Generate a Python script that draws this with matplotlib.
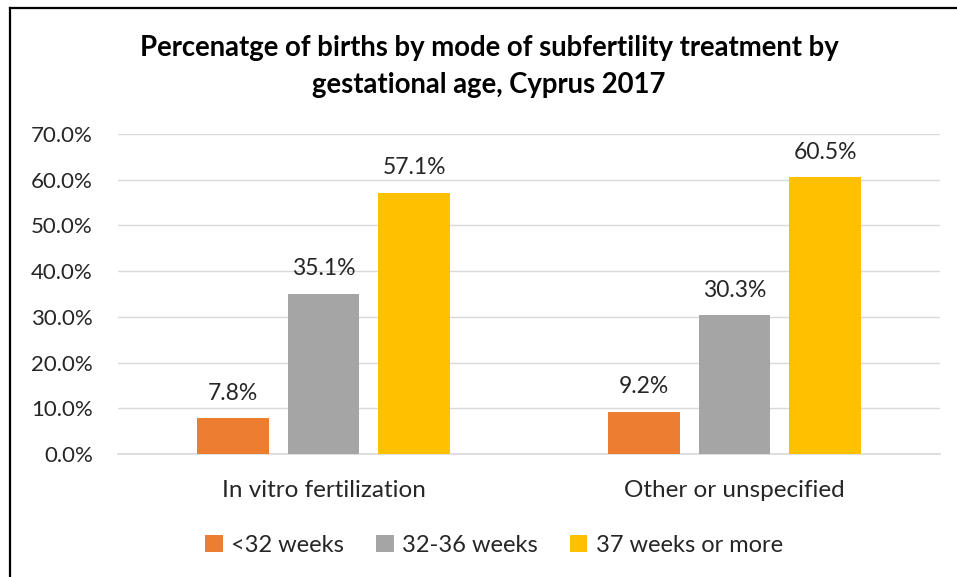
import matplotlib
matplotlib.use("Agg")
import matplotlib.pyplot as plt
from matplotlib.lines import Line2D
from matplotlib.patches import Patch
import numpy as np

plt.rcParams['font.family'] = ['Lato', 'DejaVu Sans']

categories = ["In vitro fertilization", "Other or unspecified"]
series_names = ["<32 weeks", "32-36 weeks", "37 weeks or more"]
lt32 = [7.8, 9.2]
w32_36 = [35.1, 30.3]
w37plus = [57.1, 60.5]
colors = ["#ED7D31", "#A5A5A5", "#FFC000"]
yticks = [0, 10, 20, 30, 40, 50, 60, 70]

W, H = 957, 577
fig = plt.figure(figsize=(W / 100, H / 100), dpi=100)
ax = fig.add_axes([118 / W, (H - 454) / H, (940 - 118) / W, (454 - 134) / H])

x = np.arange(len(categories))
bw = 0.175
step = 0.221
for i, (vals, c) in enumerate(zip([lt32, w32_36, w37plus], colors)):
    pos = x + (i - 1) * step
    ax.bar(pos, vals, width=bw, color=c, zorder=3, label=series_names[i])
    for p, v in zip(pos, vals):
        ax.text(p, v + 3.2, f"{v:.1f}%", ha='center', va='bottom', fontsize=16.5, color='#262626')

ax.set_xlim(-0.5, 1.5)
ax.set_ylim(0, 70)
ax.set_yticks(yticks)
ax.set_yticklabels([f"{t:.1f}%" for t in yticks], fontsize=16, color='#262626')
ax.set_xticks(x)
ax.set_xticklabels(categories, fontsize=17.5, color='#262626')
ax.tick_params(axis='both', length=0)
ax.tick_params(axis='y', pad=18)
ax.tick_params(axis='x', pad=19)
ax.grid(axis='y', color='#D9D9D9', linewidth=1, zorder=0)
for s in ['top', 'right', 'left']:
    ax.spines[s].set_visible(False)
ax.spines['bottom'].set_color('#D9D9D9')
ax.spines['bottom'].set_linewidth(1.2)

fig.text(489 / W, 1 - 66.5 / H, "Percenatge of births by mode of subfertility treatment by\ngestational age, Cyprus 2017",
         ha='center', va='center', fontsize=19.8, fontweight='bold', color='#000000', linespacing=1.5)

handles = [Patch(facecolor=c, edgecolor='none') for c in colors]
fig.legend(handles, series_names, loc='center', bbox_to_anchor=(494 / W, 1 - 545 / H),
           ncol=3, frameon=False, fontsize=17, handlelength=0.75, handleheight=0.75,
           handletextpad=0.35, columnspacing=1.35, labelcolor='#262626')

# chart border (left and top edges)
fig.add_artist(Line2D([10 / W, 10 / W], [0, 1 - 8 / H], transform=fig.transFigure, color='black', linewidth=1.6))
fig.add_artist(Line2D([10 / W, 1], [1 - 8 / H, 1 - 8 / H], transform=fig.transFigure, color='black', linewidth=1.6))

fig.savefig("out.png", dpi=100)
